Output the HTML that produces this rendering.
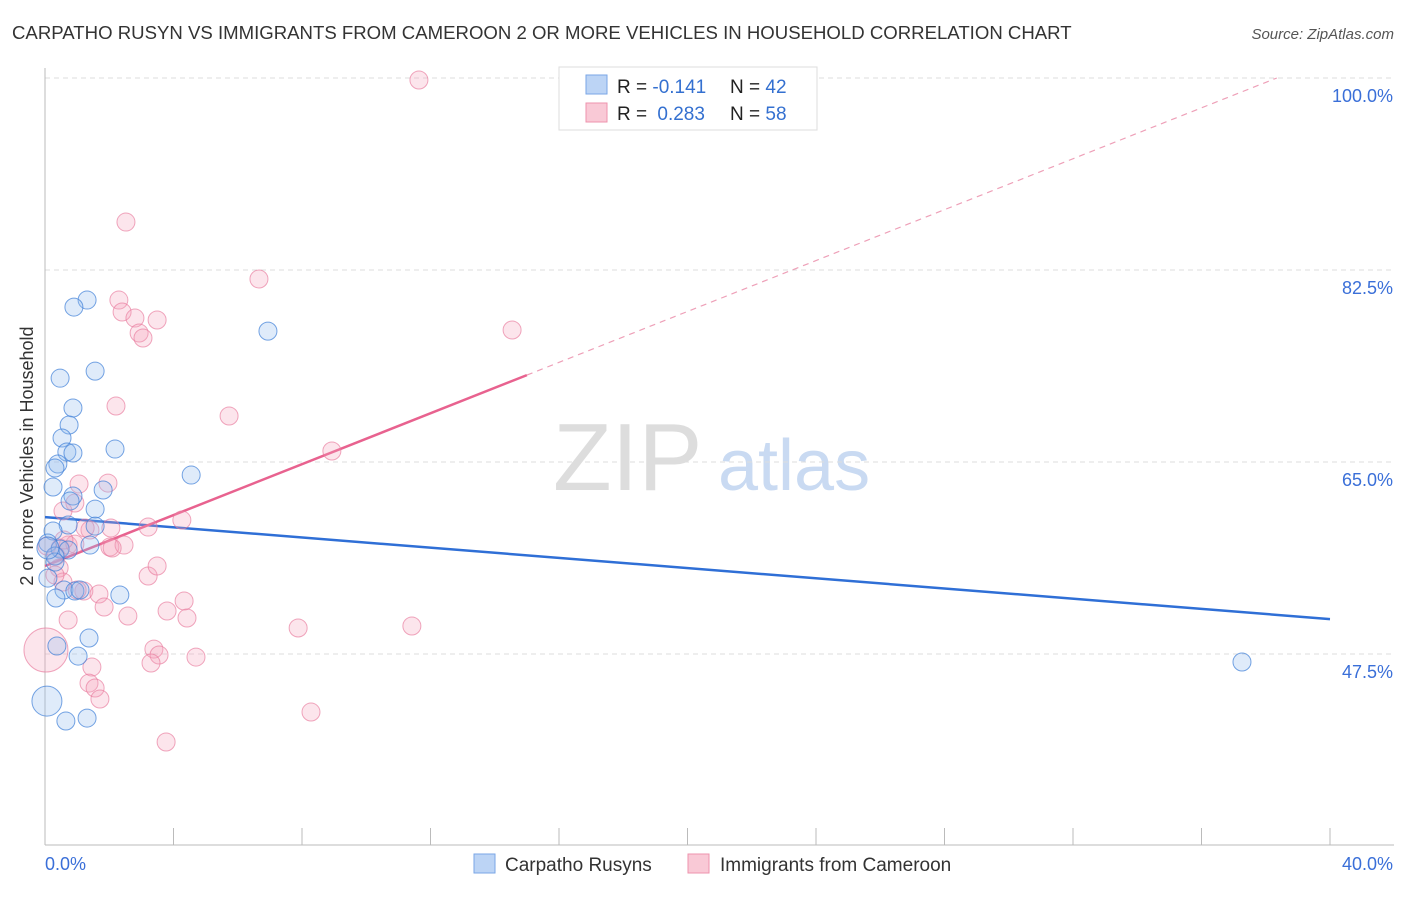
<!DOCTYPE html>
<html><head><meta charset="utf-8"><style>
body{margin:0;background:#fff;font-family:"Liberation Sans",sans-serif;}
svg text{font-family:"Liberation Sans",sans-serif;}
</style></head><body>
<svg id="chart" width="1406" height="892" xmlns="http://www.w3.org/2000/svg">
<text x="12" y="39" font-size="18.6" fill="#333">CARPATHO RUSYN VS IMMIGRANTS FROM CAMEROON 2 OR MORE VEHICLES IN HOUSEHOLD CORRELATION CHART</text>
<text x="1394" y="39" font-size="15" fill="#555" text-anchor="end" font-style="italic">Source: ZipAtlas.com</text>
<g><text x="553" y="490" font-size="96" fill="#ddd" font-family="Liberation Serif, serif">ZIP</text><text x="718" y="490" font-size="72" fill="#c9daf2">atlas</text></g>
<g id="grid"></g><g id="axes"></g><g id="lines"></g><g id="points"></g>
<text transform="translate(33,456) rotate(-90)" font-size="18" fill="#333" text-anchor="middle">2 or more Vehicles in Household</text>
<g>
<rect x="559" y="67" width="258" height="63" fill="#fff" stroke="#ddd"/>
<rect x="586" y="75" width="21" height="19" fill="#bcd4f5" stroke="#7aa6e6"/>
<rect x="586" y="103" width="21" height="19" fill="#f9c9d6" stroke="#ee93ad"/>
<text x="617" y="93" font-size="19" fill="#222">R = <tspan fill="#3470d0">-0.141</tspan></text>
<text x="730" y="93" font-size="19" fill="#222">N = <tspan fill="#3470d0">42</tspan></text>
<text x="617" y="120" font-size="19" fill="#222">R = <tspan fill="#3470d0" dx="5">0.283</tspan></text>
<text x="730" y="120" font-size="19" fill="#222">N = <tspan fill="#3470d0">58</tspan></text>
</g>
<g>
<rect x="474" y="854" width="21" height="19" fill="#bcd4f5" stroke="#7aa6e6"/>
<text x="505" y="871" font-size="19" fill="#333">Carpatho Rusyns</text>
<rect x="688" y="854" width="21" height="19" fill="#f9c9d6" stroke="#ee93ad"/>
<text x="720" y="871" font-size="19" fill="#333">Immigrants from Cameroon</text>
</g>
</svg>
<script>
const yTicks=[100,82.5,65,47.5];
const yTickLabels=["100.0%","82.5%","65.0%","47.5%"];
const blueX=[1.31,0.90,6.94,1.56,0.47,0.87,0.75,0.53,2.18,0.68,0.87,0.40,0.31,4.55,0.25,1.81,0.87,0.78,1.56,0.72,1.56,0.25,0.09,1.40,0.47,0.72,0.31,0.31,0.09,0.59,0.93,1.09,2.33,0.34,1.37,0.37,1.03,37.26,0.06,0.65,1.31,0.09];
const blueY=[79.76,79.12,76.93,73.28,72.64,69.92,68.37,67.19,66.18,65.91,65.82,64.82,64.45,63.81,62.72,62.45,61.90,61.44,60.71,59.26,59.16,58.71,57.62,57.43,57.07,56.98,56.43,55.88,54.42,53.33,53.24,53.33,52.88,52.60,48.96,48.23,47.31,46.77,43.21,41.39,41.66,57.16];
const blueR=[9,9,9,9,9,9,9,9,9,9,9,9,9,9,9,9,9,9,9,9,9,9,9,9,9,9,9,9,9,9,9,9,9,9,9,9,9,9,15,9,9,11];
const pinkX=[11.64,2.52,6.66,2.30,2.40,2.80,3.49,2.93,3.05,14.54,2.21,5.73,8.93,1.96,1.06,0.93,0.56,4.26,2.05,1.40,3.21,0.47,0.72,0.93,2.02,2.46,2.09,0.34,0.44,3.21,0.56,1.21,1.00,1.68,4.33,1.84,3.80,4.42,2.58,0.72,7.88,11.42,3.39,3.55,3.30,4.70,1.46,1.37,1.56,1.71,8.28,3.77,0.03,0.31,0.06,0.59,3.49,1.25];
const pinkY=[99.82,86.87,81.68,79.76,78.67,78.12,77.94,76.76,76.30,77.03,70.10,69.19,66.00,63.08,62.99,61.26,60.53,59.71,58.98,58.80,59.07,57.16,57.43,57.52,57.25,57.43,57.16,56.43,55.34,54.61,54.06,53.24,53.33,52.97,52.33,51.78,51.42,50.78,50.96,50.60,49.87,50.05,47.95,47.41,46.68,47.22,46.31,44.85,44.40,43.40,42.21,39.48,47.86,54.70,57.34,57.89,55.52,58.98];
const blueFit=[59.98,50.68];
const pinkFit=[55.52,1.16];
const NS="http://www.w3.org/2000/svg";
const X=v=>45+v/40*1285;
const Y=v=>78+(100-v)/17.5*192;
function mk(tag,attrs,parent){const e=document.createElementNS(NS,tag);for(const k in attrs)e.setAttribute(k,attrs[k]);document.getElementById(parent).appendChild(e);return e;}
yTicks.forEach((t,i)=>{
 const g=mk('line',{x1:45,x2:1394,y1:Y(t),y2:Y(t),stroke:'#ddd','stroke-dasharray':'5,4'},'grid');
 
 
 const tx=mk('text',{x:1393,y:Y(t)+24,'font-size':18,fill:'#3a6fd8','text-anchor':'end'},'grid');
 tx.textContent=yTickLabels[i];
 
 
});
const ax=mk('line',{x1:45,x2:45,y1:68,y2:845,stroke:'#bbb'},'axes');


const bx=mk('line',{x1:45,x2:1394,y1:845,y2:845,stroke:'#bbb'},'axes');


for(let i=0;i<=10;i++){const t=mk('line',{x1:X(i*4),x2:X(i*4),y1:828,y2:845,stroke:'#bbb'},'axes');
 
 }
const l0=mk('text',{x:45,y:870,'font-size':18,fill:'#3a6fd8'},'axes');l0.textContent='0.0%';


const l1=mk('text',{x:1393,y:870,'font-size':18,fill:'#3a6fd8','text-anchor':'end'},'axes');l1.textContent='40.0%';


function dots(xs,ys,rs,fill,stroke,name){xs.forEach((x,i)=>{const c=mk('circle',{cx:X(x),cy:Y(ys[i]),r:rs?rs[i]:(i==52?22:9),fill:fill,stroke:stroke,'stroke-width':1},'points');
 
 });}
dots(pinkX,pinkY,null,'rgba(244,160,185,0.28)','rgba(232,120,155,0.65)','cameroon-point');
dots(blueX,blueY,blueR,'rgba(150,190,240,0.3)','rgba(60,125,215,0.7)','carpatho-point');
const bl=mk('line',{x1:X(0),y1:Y(blueFit[0]),x2:X(40),y2:Y(blueFit[1]),stroke:'#2f6fd6','stroke-width':2.5},'lines');


const pe=15, pd=(100-pinkFit[0])/pinkFit[1];
const pl=mk('line',{x1:X(0),y1:Y(pinkFit[0]),x2:X(pe),y2:Y(pinkFit[0]+pinkFit[1]*pe),stroke:'#e8628f','stroke-width':2.5},'lines');


const pdl=mk('line',{x1:X(pe),y1:Y(pinkFit[0]+pinkFit[1]*pe),x2:X(pd),y2:Y(100),stroke:'#eea0b8','stroke-width':1.2,'stroke-dasharray':'6,5'},'lines');


</script>
</body></html>
